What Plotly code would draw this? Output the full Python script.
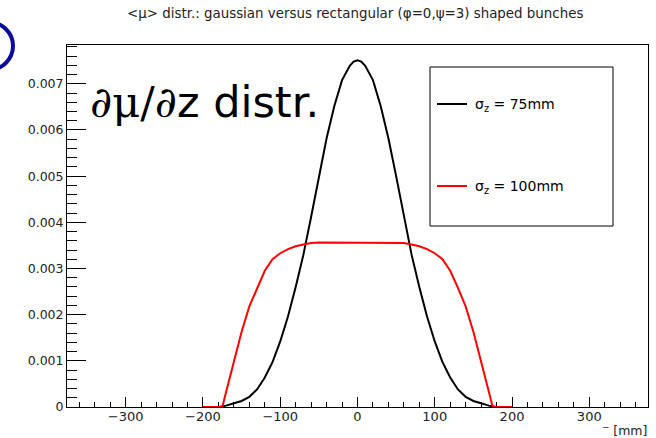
import plotly.graph_objects as go

# ---------------- data ----------------
z_black = [-180, -170, -160, -150, -140, -130, -120, -110, -100, -90, -80, -70, -60, -50, -40, -30, -20, -10,
           -5, 0, 5, 10, 20, 30, 40, 50, 60, 70, 80, 90, 100, 110, 120, 130, 140, 150, 160, 170, 180]
mu_black = [0.0, 0.00003, 0.00008, 0.00013, 0.00022, 0.00038, 0.00064, 0.00097, 0.00142, 0.00196, 0.00260,
            0.00330, 0.00412, 0.00500, 0.00582, 0.00652, 0.00708, 0.00739,
            0.00748, 0.00751, 0.00748, 0.00739, 0.00708, 0.00652, 0.00582, 0.00500, 0.00412, 0.00330,
            0.00260, 0.00196, 0.00142, 0.00097, 0.00064, 0.00038, 0.00022, 0.00013, 0.00008, 0.00003, 0.0]

z_red = [-200, -180, -175, -170, -160, -150, -140, -130, -120, -110, -100, -90, -80, -70, -60, -50,
         0, 50, 60, 70, 80, 90, 100, 110, 120, 130, 140, 150, 160, 170, 175, 180, 200]
mu_red = [0.0, 0.0, 0.0, 0.00033, 0.00095, 0.00163, 0.00218, 0.00258, 0.00295, 0.00320, 0.00333, 0.00342,
          0.00348, 0.00352, 0.00355, 0.00356,
          0.00356, 0.00356, 0.00355, 0.00352, 0.00348, 0.00342, 0.00333, 0.00320, 0.00295, 0.00258,
          0.00218, 0.00163, 0.00095, 0.00033, 0.0, 0.0, 0.0]

x_tickvals = [-300, -200, -100, 0, 100, 200, 300]
x_ticktext = ["\u2212300", "\u2212200", "\u2212100", "0", "100", "200", "300"]
y_tickvals = [0, 0.001, 0.002, 0.003, 0.004, 0.005, 0.006, 0.007]
y_ticktext = ["0", "0.001", "0.002", "0.003", "0.004", "0.005", "0.006", "0.007"]

series_names = ["\u03c3<sub>z</sub> = 75mm", "\u03c3<sub>z</sub> = 100mm"]
title_text = "<\u03bc> distr.: gaussian versus rectangular (\u03c6=0,\u03c8=3) shaped bunches"

# ---------------- layout helpers ----------------
W, H = 656, 438
L, R, T, B = 67, 648, 45, 407


def px(x):
    return (x - L) / (R - L)


def py(y):
    return (B - y) / (B - T)


FONT = "DejaVu Sans"

fig = go.Figure()
fig.add_trace(go.Scatter(x=z_black, y=mu_black, mode="lines", line=dict(color="black", width=2),
                         showlegend=False, hoverinfo="skip"))
fig.add_trace(go.Scatter(x=z_red, y=mu_red, mode="lines", line=dict(color="#ff0000", width=2),
                         showlegend=False, hoverinfo="skip"))

fig.update_layout(
    width=W, height=H,
    margin=dict(l=L, r=W - R, t=T, b=H - B, pad=0),
    paper_bgcolor="white", plot_bgcolor="white",
    showlegend=False,
    font=dict(family=FONT, color="#222"),
)

fig.update_xaxes(
    range=[-376, 376], showgrid=False, zeroline=False,
    showline=True, linecolor="black", linewidth=1, mirror=True,
    ticks="inside", ticklen=10, tickcolor="black", tickwidth=1,
    tickmode="array", tickvals=x_tickvals, ticktext=x_ticktext,
    tickfont=dict(family=FONT, size=13, color="#222"),
    ticklabelstandoff=-3,
    minor=dict(ticks="inside", ticklen=5, tickcolor="black", tickmode="linear", tick0=0, dtick=20,
               showgrid=False),
    layer="below traces",
)
fig.update_yaxes(
    range=[0, 0.00784], showgrid=False, zeroline=False,
    showline=True, linecolor="black", linewidth=1, mirror=True,
    ticks="inside", ticklen=19, tickcolor="black", tickwidth=1,
    tickmode="array", tickvals=y_tickvals, ticktext=y_ticktext,
    tickfont=dict(family=FONT, size=12.5, color="#222"),
    ticklabelstandoff=0,
    minor=dict(ticks="inside", ticklen=10, tickcolor="black", tickmode="linear", tick0=0, dtick=0.0002,
               showgrid=False),
    layer="below traces",
)

annotations = [
    dict(text=title_text, x=px(355), y=py(14), xref="paper", yref="paper", showarrow=False,
         xanchor="center", yanchor="middle", font=dict(family=FONT, size=13.4, color="#222")),
    dict(text="<span style='font-family:DejaVu Serif'>\u2202\u03bc/\u2202</span>z distr.",
         x=px(88), y=py(102), xref="paper", yref="paper", showarrow=False,
         xanchor="left", yanchor="middle", font=dict(family=FONT, size=43, color="black")),
    dict(text=series_names[0], x=px(473), y=py(105), xref="paper", yref="paper", showarrow=False,
         xanchor="left", yanchor="middle", font=dict(family=FONT, size=14, color="black")),
    dict(text=series_names[1], x=px(473), y=py(187), xref="paper", yref="paper", showarrow=False,
         xanchor="left", yanchor="middle", font=dict(family=FONT, size=14, color="black")),
    dict(text="<sup>\u2212</sup> [mm]", x=px(649), y=py(430), xref="paper", yref="paper", showarrow=False,
         xanchor="right", yanchor="middle", font=dict(family=FONT, size=12.5, color="#222")),
]
fig.update_layout(annotations=annotations)

shapes = [
    dict(type="rect", xref="paper", yref="paper", x0=px(430), x1=px(613), y0=py(226), y1=py(67),
         line=dict(color="black", width=1), fillcolor="white", layer="below"),
    dict(type="line", xref="paper", yref="paper", x0=px(437), x1=px(467), y0=py(104), y1=py(104),
         line=dict(color="black", width=2)),
    dict(type="line", xref="paper", yref="paper", x0=px(437), x1=px(467), y0=py(186), y1=py(186),
         line=dict(color="#ff0000", width=2)),
    dict(type="circle", xref="paper", yref="paper", x0=px(-36), x1=px(13), y0=py(70), y1=py(22),
         line=dict(color="#0c0c9a", width=4)),
]
fig.update_layout(shapes=shapes)

fig.write_html("out.html", config={"displayModeBar": False, "staticPlot": True},
               post_script="document.body.style.margin='0px';document.body.style.overflow='hidden';")
